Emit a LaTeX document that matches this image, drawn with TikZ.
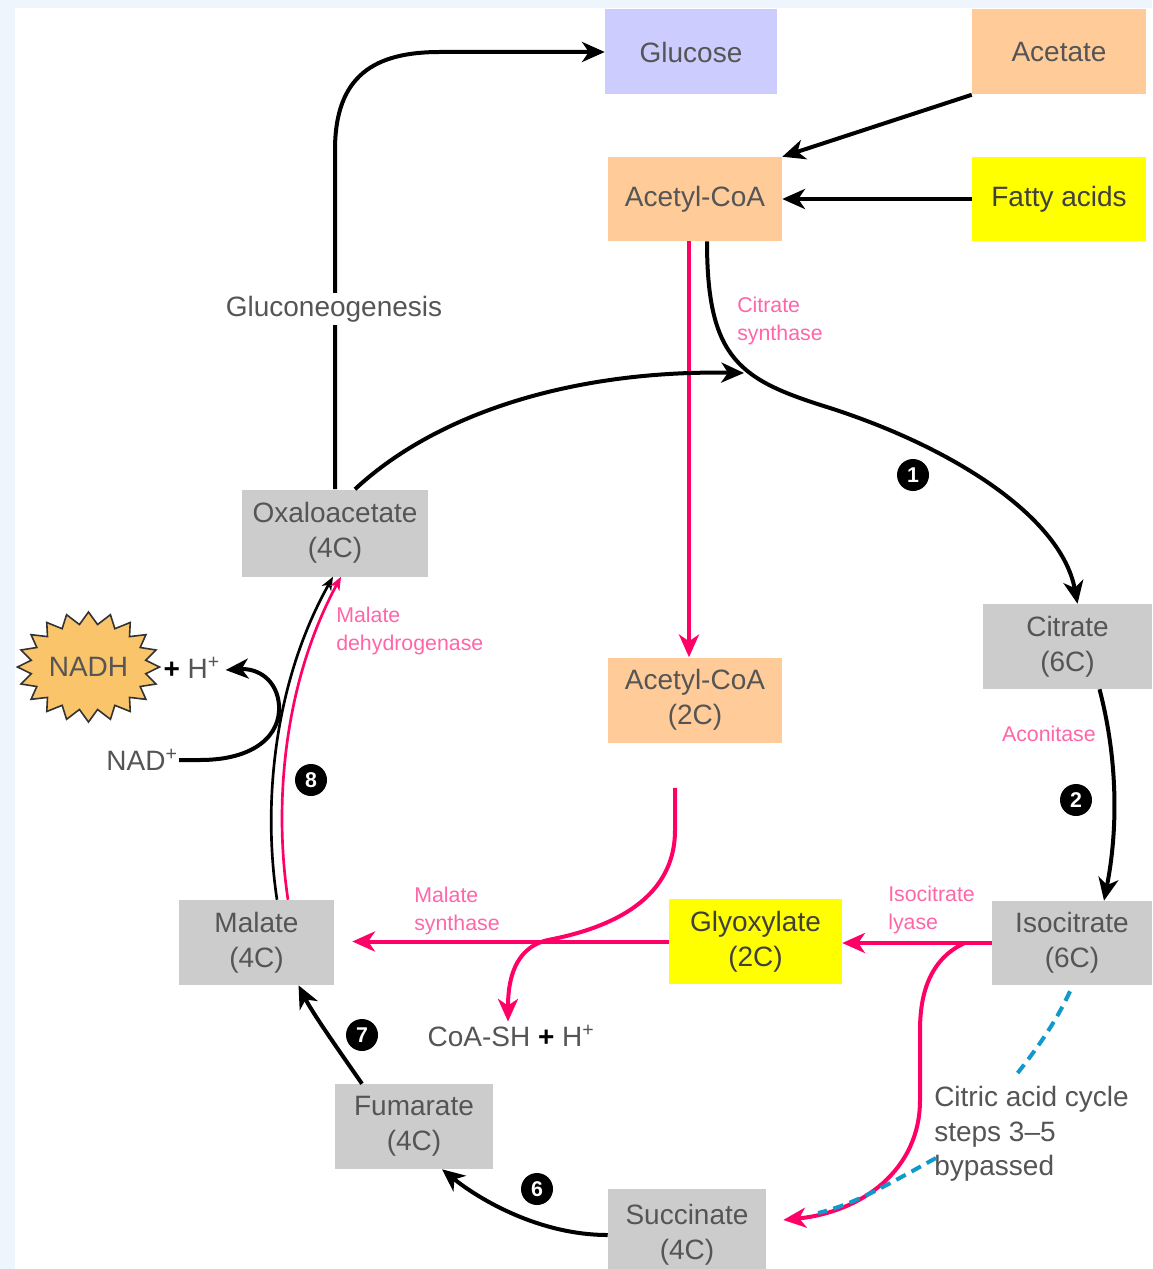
\documentclass[tikz,border=0pt]{standalone}
\usepackage{fontspec}
\setmainfont{Liberation Sans}
\usetikzlibrary{arrows.meta,calc}
\definecolor{pinkline}{HTML}{FF0066}
\definecolor{pinklab}{HTML}{FF66AA}
\definecolor{boxgray}{HTML}{CCCCCC}
\definecolor{peach}{HTML}{FFCC99}
\definecolor{lav}{HTML}{CCCCFF}
\definecolor{yel}{HTML}{FFFF00}
\definecolor{txtgray}{HTML}{555555}
\definecolor{bluedash}{HTML}{1199CC}
\definecolor{bgblue}{HTML}{EEF5FD}
\definecolor{starfill}{HTML}{F9C46A}
\begin{document}
\begin{tikzpicture}[x=0.75pt,y=-0.75pt,
  box/.style={inner sep=0pt, align=center, text=txtgray, font=\fontsize{21}{26}\selectfont},
  plain/.style={inner sep=1pt, align=center, text=txtgray, font=\fontsize{21}{26}\selectfont},
  enz/.style={inner sep=0pt, align=left, text=pinklab, font=\fontsize{16}{21}\selectfont},
  stepnum/.style={circle, fill=black, text=white, minimum size=24pt, inner sep=0pt, font=\bfseries\fontsize{16}{16}\selectfont},
  blk/.style={line width=3pt, black},
  pk/.style={line width=3pt, pinkline},
  thinblk/.style={line width=2pt, black},
  thinpk/.style={line width=2pt, pinkline},
  bigtip/.style={-{Stealth[length=17pt,width=15pt,inset=5pt]}},
  smalltip/.style={-{Stealth[length=10pt,width=8pt,inset=3pt]}},
  bypass/.style={line width=3pt, bluedash, dash pattern=on 8pt off 5pt}
]
% background
\fill[bgblue] (0,0) rectangle (1152,1269);
\fill[white] (15,8) rectangle (1152,1269);
\useasboundingbox (0,0) rectangle (1152,1269);

% boxes
\node[box, fill=lav, minimum width=129pt, minimum height=63.75pt] (glucose) at (691,52) {Glucose};
\node[box, fill=peach, minimum width=130.5pt, minimum height=63.75pt] (acetate) at (1059,52) {Acetate};
\node[box, fill=peach, minimum width=130.5pt, minimum height=63pt] (acoa) at (695,199) {Acetyl-CoA};
\node[box, fill=yel, minimum width=130.5pt, minimum height=63pt, text=black!75] (fatty) at (1059,199) {Fatty acids};
\node[box, fill=boxgray, minimum width=139.5pt, minimum height=65.25pt] (oxa) at (335,533) {Oxaloacetate\\(4C)};
\node[box, fill=boxgray, minimum width=126.75pt, minimum height=63.75pt] (citrate) at (1067.5,646.5) {Citrate\\(6C)};
\node[box, fill=peach, minimum width=130.5pt, minimum height=63.75pt] (acoa2) at (695,700) {Acetyl-CoA\\(2C)};
\node[box, fill=boxgray, minimum width=116.25pt, minimum height=63.75pt] (malate) at (256.5,942.5) {Malate\\(4C)};
\node[box, fill=yel, minimum width=129.75pt, minimum height=63.75pt, text=black!75] (glyox) at (755.5,941.5) {Glyoxylate\\(2C)};
\node[box, fill=boxgray, minimum width=120pt, minimum height=63pt] (isocit) at (1072,943) {Isocitrate\\(6C)};
\node[box, fill=boxgray, minimum width=118.5pt, minimum height=63.75pt] (fumar) at (414,1126.5) {Fumarate\\(4C)};
\node[box, fill=boxgray, minimum width=118.5pt, minimum height=69pt] (succ) at (687,1235) {Succinate\\(4C)};

% NADH starburst
\filldraw[fill=starfill, draw=black!80, line width=1.2pt]
  plot[samples at={0,...,39}, variable=\k]
  ({88.5+ifthenelse(mod(\k,2)<0.5,71,58)*cos(9*\k)}, {667+ifthenelse(mod(\k,2)<0.5,55,43)*sin(9*\k)}) -- cycle;
\node[plain] (nadh) at (88.5,667) {NADH};
\node[plain, anchor=west] (hplus) at (162,668) {{\color{black}\textbf{+}} H\textsuperscript{+}};
\node[plain] (nad) at (142,760) {NAD\textsuperscript{+}};
\node[plain] (coash) at (511,1036) {CoA-SH {\color{black}\textbf{+}} H\textsuperscript{+}};

% gluconeogenesis
\draw[blk, bigtip] (oxa.north) -- (335,150) .. controls (335,75) and (375,52) .. (440,52) -- (glucose.west);
\node[plain, fill=white, inner sep=2pt] (gluco) at (334,309) {Gluconeogenesis};

% inputs to acetyl-CoA
\draw[blk, bigtip] (acetate.south west) -- (acoa.north east);
\draw[blk, bigtip] (fatty.west) -- (acoa.east);

% acetyl-CoA to acetyl-CoA (2C)
\draw[pk, bigtip] ($(acoa.south)+(-6,0)$) -- ($(acoa2.north)+(-6,0)$);

% citrate synthase
\draw[blk, bigtip] ($(acoa.south)+(12,0)$) .. controls (707,360) and (740,380) .. (830,408)
  .. controls (960,450) and (1062,520) .. ($(citrate.north)+(10,0)$);
\coordinate (csin) at (744,373);
\draw[blk, bigtip] ($(oxa.north)+(20,0)$) .. controls (440,410) and (580,370) .. (csin);

% aconitase
\draw[blk, bigtip] ($(citrate.south)+(32,0)$) .. controls (1118,760) and (1118,830) .. ($(isocit.north)+(32,0)$);

% isocitrate lyase
\draw[pk, bigtip] (isocit.west) -- (isocit.west -| glyox.east);
\draw[pk, bigtip] ($(isocit.west)+(-27,0)$) .. controls (932,958) and (920,990) .. (920,1030) -- (920,1100)
  .. controls (920,1170) and (862,1212) .. ($(succ.east)+(17,-15)$);

% malate synthase
\draw[pk, bigtip] (glyox.west) -- ($(malate.east)+(18,-1)$);
\draw[pk, bigtip] ($(acoa2.south)+(-20,45)$) -- (675,830) .. controls (675,905) and (600,930) .. (548,940)
  .. controls (512,948) and (508,985) .. ($(coash.north)+(-3,-2)$);

% succinate -> fumarate -> malate
\draw[blk, bigtip] (succ.west) .. controls (540,1235) and (480,1200) .. ($(fumar.south)+(28,0)$);
\draw[blk, bigtip] ($(fumar.north)+(-52,0)$) .. controls (335,1045) and (312,1012) .. ($(malate.south)+(42,0)$);

% malate -> oxaloacetate
\draw[thinblk, smalltip] ($(malate.north)+(20.5,0)$) .. controls (262,800) and (275,680) .. ($(oxa.south)+(-2,0)$);
\draw[thinpk, smalltip] ($(malate.north)+(31.5,0)$) .. controls (273,800) and (285,680) .. ($(oxa.south)+(6,0)$);

% NAD+ -> NADH
\draw[blk, bigtip] (nad.east) -- (200,760) .. controls (255,760) and (281,735) .. (279,705)
  .. controls (277,680) and (258,668) .. ($(hplus.east)+(4,2)$);

% bypass note
\node[plain, anchor=west, align=left, inner sep=0pt] (bypass) at (934,1134) {Citric acid cycle\\steps 3--5\\bypassed};
\draw[bypass] ($(isocit.south)+(-2,6)$) .. controls (1056,1022) and (1036,1050) .. (1016,1075);
\draw[bypass] ($(bypass.west)+(2,24)$) .. controls (885,1186) and (855,1204) .. (818,1213);

% enzyme labels
\node[enz, anchor=west] (csl) at (737,321) {Citrate\\synthase};
\node[enz, anchor=west] (mdhl) at (336,631) {Malate\\dehydrogenase};
\node[enz, anchor=east] (aconl) at (1096,734) {Aconitase};
\node[enz, anchor=west] (msl) at (414,911) {Malate\\synthase};
\node[enz, anchor=west] (ill) at (888,910) {Isocitrate\\lyase};

% step numbers
\node[stepnum] (s1) at (913,475) {1};
\node[stepnum] (s2) at (1076,800) {2};
\node[stepnum] (s6) at (537,1189) {6};
\node[stepnum] (s7) at (362,1035) {7};
\node[stepnum] (s8) at (311,780) {8};
\end{tikzpicture}
\end{document}
